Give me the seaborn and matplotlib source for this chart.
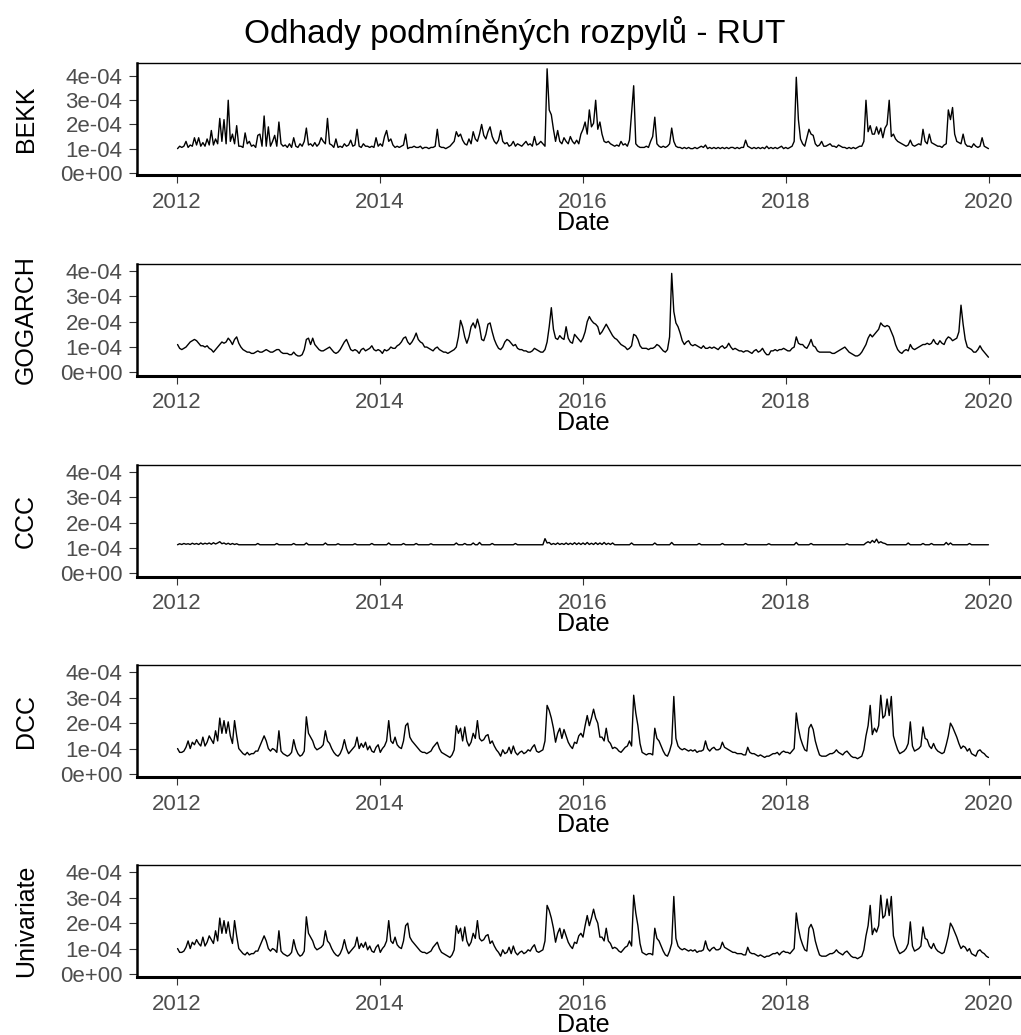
import numpy as np
import pandas as pd
import matplotlib
matplotlib.use("Agg")
import matplotlib.pyplot as plt
import seaborn as sns

# ---------------- data (values in units of 1e-04) ----------------
title = "Odhady podmíněných rozpylů - RUT"
series_names = ["BEKK", "GOGARCH", "CCC", "DCC", "Univariate"]
x_label = "Date"
start_date = "2012-01-03"
end_date = "2019-12-31"
year_ticks = ["2012", "2014", "2016", "2018", "2020"]
y_tick_values = [0.0, 1e-4, 2e-4, 3e-4, 4e-4]
y_tick_labels = ["0e+00", "1e-04", "2e-04", "3e-04", "4e-04"]
unit = 1e-4

bekk_values = [
    # 2012
    1.0, 1.1, 1.05, 1.1, 1.3, 1.05, 1.15, 1.1, 1.45, 1.15, 1.45, 1.1,
    1.25, 1.1, 1.4, 1.15, 1.75, 1.15, 1.4, 1.2, 2.25, 1.3, 2.2, 1.2,
    3.0, 1.3, 1.6, 1.2, 1.95, 1.1, 1.1, 1.05, 1.65, 1.2, 1.3, 1.1,
    1.15, 1.05, 1.55, 1.6, 1.1, 2.35, 1.1, 1.9, 1.1, 1.3, 1.55, 1.1,
    # 2013
    2.1, 1.2, 1.1, 1.15, 1.05, 1.2, 1.05, 1.45, 1.1, 1.05, 1.2, 1.1,
    1.3, 1.85, 1.15, 1.2, 1.1, 1.25, 1.1, 1.2, 1.45, 1.3, 1.2, 2.25,
    1.2, 1.15, 1.05, 1.4, 1.05, 1.1, 1.05, 1.2, 1.1, 1.15, 1.35, 1.1,
    1.15, 1.8, 1.1, 1.05, 1.2, 1.1, 1.1, 1.05, 1.1, 1.05, 1.45, 1.1,
    # 2014
    1.2, 1.1, 1.5, 1.75, 1.3, 1.4, 1.15, 1.05, 1.1, 1.05, 1.1, 1.15,
    1.6, 1.0, 1.05, 1.05, 1.1, 1.05, 1.05, 1.1, 1.0, 1.05, 1.05, 1.0,
    1.05, 1.05, 1.1, 1.8, 1.1, 1.05, 1.05, 1.0, 1.05, 1.1, 1.2, 1.3,
    1.7, 1.5, 1.6, 1.35, 1.2, 1.15, 1.4, 1.2, 1.7, 1.4, 1.3, 1.6,
    # 2015
    2.0, 1.55, 1.4, 1.7, 1.9, 1.5, 1.3, 1.2, 1.35, 1.75, 1.3, 1.2,
    1.25, 1.1, 1.15, 1.3, 1.1, 1.2, 1.15, 1.1, 1.2, 1.3, 1.15, 1.2,
    1.1, 1.5, 1.15, 1.2, 1.3, 1.2, 1.1, 4.3, 2.6, 2.4, 1.8, 1.3,
    1.75, 1.3, 1.2, 1.45, 1.3, 1.2, 1.5, 1.3, 1.2, 1.35, 1.2, 1.6,
    # 2016
    1.8, 2.1, 1.6, 2.6, 1.9, 2.05, 3.0, 1.8, 2.1, 1.6, 1.3, 1.25,
    1.3, 1.2, 1.15, 1.1, 1.15, 1.1, 1.3, 1.15, 1.2, 1.1, 1.35, 2.5,
    3.6, 1.2, 1.1, 1.05, 1.05, 1.05, 1.1, 1.05, 1.3, 1.5, 2.3, 1.2,
    1.1, 1.05, 1.1, 1.05, 1.1, 1.2, 1.85, 1.3, 1.1, 1.05, 1.05, 1.0,
    # 2017
    1.05, 1.0, 1.05, 1.0, 1.0, 1.05, 1.0, 1.05, 1.1, 1.05, 1.15, 1.0,
    1.05, 1.0, 1.05, 1.0, 1.05, 1.0, 1.05, 1.0, 1.05, 1.0, 1.05, 1.05,
    1.0, 1.05, 1.0, 1.05, 1.05, 1.35, 1.1, 1.05, 1.0, 1.05, 1.0, 1.05,
    1.0, 1.05, 1.0, 1.1, 1.0, 1.05, 1.0, 1.05, 1.0, 1.05, 1.1, 1.0,
    # 2018
    1.05, 1.0, 1.05, 1.1, 1.3, 3.95, 2.2, 1.4, 1.2, 1.1, 1.45, 1.8,
    1.6, 1.55, 1.2, 1.1, 1.15, 1.3, 1.1, 1.1, 1.15, 1.2, 1.1, 1.1,
    1.05, 1.15, 1.1, 1.05, 1.05, 1.0, 1.05, 1.0, 1.05, 1.0, 1.05, 1.1,
    1.1, 1.3, 3.0, 1.7, 1.95, 1.6, 1.6, 1.9, 1.6, 1.85, 1.45, 1.85,
    # 2019
    2.0, 3.0, 1.5, 1.6, 1.4, 1.3, 1.25, 1.2, 1.15, 1.1, 1.15, 1.35,
    1.15, 1.1, 1.15, 1.2, 1.15, 1.8, 1.3, 1.2, 1.6, 1.25, 1.2, 1.15,
    1.1, 1.1, 1.05, 1.15, 1.2, 2.6, 2.2, 2.7, 1.6, 1.3, 1.25, 1.2,
    1.6, 1.2, 1.1, 1.1, 1.05, 1.2, 1.1, 1.05, 1.1, 1.45, 1.1, 1.05,
    1.0,
]

gogarch_values = [
    # 2012
    1.1, 0.95, 0.9, 0.95, 1.0, 1.1, 1.2, 1.25, 1.3, 1.25, 1.15, 1.05,
    1.05, 1.0, 1.05, 0.95, 0.9, 0.8, 0.9, 1.0, 1.1, 1.2, 1.15, 1.2,
    1.35, 1.25, 1.1, 1.3, 1.4, 1.15, 1.0, 0.9, 0.85, 0.8, 0.8, 0.75,
    0.75, 0.8, 0.85, 0.8, 0.8, 0.85, 0.9, 0.85, 0.8, 0.8, 0.85, 0.9,
    # 2013
    0.9, 0.8, 0.75, 0.75, 0.75, 0.7, 0.7, 0.8, 0.7, 0.65, 0.65, 0.7,
    0.9, 1.3, 1.35, 1.1, 1.35, 1.1, 1.0, 0.9, 0.85, 0.85, 0.9, 0.95,
    1.0, 0.9, 0.8, 0.75, 0.8, 0.9, 1.05, 1.2, 1.3, 1.1, 0.9, 0.85,
    0.9, 0.85, 0.75, 0.9, 0.95, 0.85, 0.9, 0.95, 1.05, 0.9, 0.85, 0.9,
    # 2014
    0.85, 0.75, 0.9, 0.85, 0.9, 1.0, 0.95, 0.95, 1.05, 1.1, 1.2, 1.35,
    1.4, 1.2, 1.1, 1.2, 1.35, 1.55, 1.3, 1.2, 1.15, 1.0, 1.0, 0.95,
    0.9, 0.85, 0.95, 1.0, 0.9, 0.85, 0.8, 0.8, 0.75, 0.8, 0.85, 0.9,
    1.0, 1.4, 2.05, 1.8, 1.4, 1.15, 1.4, 1.8, 1.95, 1.75, 2.1, 1.8,
    # 2015
    1.3, 1.25, 1.5, 1.9, 1.95, 1.6, 1.3, 1.1, 0.95, 0.9, 1.0, 1.2,
    1.3, 1.25, 1.15, 1.05, 1.1, 0.95, 0.9, 0.9, 0.85, 0.85, 0.8, 0.8,
    0.85, 0.95, 0.9, 0.85, 0.8, 0.8, 0.9, 1.2, 1.8, 2.55, 1.7, 1.35,
    1.3, 1.45, 1.35, 1.3, 1.8, 1.35, 1.2, 1.15, 1.5, 1.4, 1.3, 1.2,
    # 2016
    1.35, 1.6, 2.0, 2.2, 2.05, 1.95, 1.9, 1.8, 1.5, 1.6, 1.75, 1.9,
    1.75, 1.6, 1.45, 1.35, 1.3, 1.2, 1.1, 1.05, 1.0, 0.9, 0.95, 1.05,
    1.5, 1.45, 1.3, 1.05, 0.95, 0.95, 0.95, 0.9, 0.95, 0.95, 1.0, 1.1,
    1.05, 0.95, 0.85, 0.8, 0.9, 1.4, 3.9, 2.4, 1.95, 1.8, 1.55, 1.25,
    # 2017
    1.1, 1.2, 1.25, 1.1, 1.05, 1.1, 1.05, 1.0, 0.95, 1.05, 0.95, 0.95,
    1.0, 0.95, 1.0, 0.95, 0.9, 1.0, 1.05, 0.95, 1.0, 1.15, 1.0, 0.9,
    0.95, 0.9, 0.85, 0.85, 0.8, 0.85, 0.85, 0.8, 0.75, 0.85, 0.9, 0.8,
    0.85, 0.95, 0.8, 0.7, 0.7, 0.85, 0.85, 0.9, 0.85, 0.9, 0.9, 0.95,
    # 2018
    0.9, 0.85, 0.85, 0.95, 1.0, 1.4, 1.15, 1.1, 1.1, 1.0, 0.95, 1.1,
    1.3, 1.05, 1.0, 0.85, 0.8, 0.8, 0.8, 0.8, 0.8, 0.8, 0.75, 0.75,
    0.8, 0.85, 0.9, 0.95, 1.0, 0.9, 0.8, 0.75, 0.7, 0.65, 0.65, 0.7,
    0.8, 0.95, 1.1, 1.35, 1.5, 1.4, 1.5, 1.6, 1.7, 1.95, 1.85, 1.8,
    # 2019
    1.85, 1.8, 1.6, 1.4, 1.1, 0.9, 0.8, 0.75, 0.85, 0.9, 0.85, 1.1,
    0.95, 0.9, 0.95, 1.0, 1.05, 1.1, 1.1, 1.15, 1.1, 1.15, 1.3, 1.15,
    1.1, 1.25, 1.15, 1.1, 1.3, 1.4, 1.35, 1.25, 1.3, 1.35, 1.6, 2.65,
    1.9, 1.3, 1.0, 0.95, 0.9, 0.8, 0.8, 0.9, 1.05, 0.9, 0.8, 0.7,
    0.6,
]

ccc_values = [
    # 2012
    1.13, 1.17, 1.14, 1.18, 1.15, 1.17, 1.14, 1.19, 1.15, 1.18, 1.14, 1.20,
    1.15, 1.19, 1.16, 1.20, 1.15, 1.21, 1.16, 1.20, 1.25, 1.17, 1.20, 1.15,
    1.19, 1.14, 1.18, 1.14, 1.17, 1.13, 1.13, 1.13, 1.13, 1.13, 1.13, 1.13,
    1.13, 1.13, 1.18, 1.13, 1.13, 1.13, 1.13, 1.13, 1.13, 1.13, 1.13, 1.18,
    # 2013
    1.13, 1.13, 1.13, 1.13, 1.13, 1.13, 1.13, 1.18, 1.13, 1.13, 1.13, 1.13,
    1.13, 1.20, 1.13, 1.13, 1.13, 1.13, 1.13, 1.13, 1.13, 1.13, 1.20, 1.13,
    1.13, 1.13, 1.13, 1.13, 1.17, 1.13, 1.13, 1.13, 1.13, 1.13, 1.13, 1.13,
    1.17, 1.13, 1.13, 1.13, 1.13, 1.13, 1.13, 1.13, 1.18, 1.13, 1.13, 1.13,
    # 2014
    1.13, 1.13, 1.13, 1.13, 1.20, 1.13, 1.13, 1.13, 1.13, 1.13, 1.13, 1.18,
    1.13, 1.13, 1.13, 1.13, 1.13, 1.18, 1.13, 1.13, 1.13, 1.13, 1.13, 1.13,
    1.17, 1.13, 1.13, 1.13, 1.13, 1.13, 1.13, 1.13, 1.13, 1.13, 1.13, 1.13,
    1.20, 1.13, 1.13, 1.13, 1.18, 1.13, 1.13, 1.13, 1.20, 1.13, 1.13, 1.22,
    # 2015
    1.13, 1.13, 1.13, 1.13, 1.13, 1.18, 1.13, 1.13, 1.13, 1.13, 1.13, 1.13,
    1.13, 1.13, 1.13, 1.13, 1.18, 1.13, 1.13, 1.13, 1.13, 1.13, 1.13, 1.13,
    1.13, 1.13, 1.13, 1.13, 1.13, 1.13, 1.37, 1.20, 1.22, 1.14, 1.18, 1.14,
    1.20, 1.14, 1.18, 1.14, 1.20, 1.14, 1.19, 1.14, 1.21, 1.14, 1.20, 1.14,
    # 2016
    1.20, 1.14, 1.22, 1.14, 1.19, 1.14, 1.21, 1.14, 1.20, 1.14, 1.22, 1.14,
    1.19, 1.14, 1.20, 1.13, 1.13, 1.13, 1.13, 1.13, 1.13, 1.13, 1.13, 1.20,
    1.13, 1.13, 1.13, 1.13, 1.13, 1.13, 1.13, 1.13, 1.13, 1.13, 1.20, 1.13,
    1.13, 1.13, 1.13, 1.13, 1.13, 1.13, 1.22, 1.13, 1.13, 1.13, 1.13, 1.13,
    # 2017
    1.13, 1.13, 1.13, 1.13, 1.13, 1.13, 1.13, 1.18, 1.13, 1.13, 1.13, 1.13,
    1.13, 1.13, 1.13, 1.13, 1.13, 1.13, 1.18, 1.13, 1.13, 1.13, 1.13, 1.13,
    1.13, 1.13, 1.13, 1.13, 1.13, 1.18, 1.13, 1.13, 1.13, 1.13, 1.13, 1.13,
    1.13, 1.13, 1.13, 1.13, 1.17, 1.13, 1.13, 1.13, 1.13, 1.13, 1.13, 1.13,
    # 2018
    1.13, 1.13, 1.13, 1.13, 1.13, 1.22, 1.13, 1.13, 1.13, 1.13, 1.13, 1.13,
    1.18, 1.13, 1.13, 1.13, 1.13, 1.13, 1.13, 1.13, 1.13, 1.13, 1.13, 1.13,
    1.13, 1.13, 1.13, 1.13, 1.13, 1.17, 1.13, 1.13, 1.13, 1.13, 1.13, 1.13,
    1.13, 1.13, 1.20, 1.25, 1.20, 1.30, 1.22, 1.35, 1.20, 1.25, 1.20, 1.18,
    # 2019
    1.13, 1.13, 1.13, 1.13, 1.13, 1.13, 1.13, 1.13, 1.13, 1.13, 1.20, 1.13,
    1.13, 1.13, 1.13, 1.13, 1.13, 1.18, 1.13, 1.13, 1.13, 1.18, 1.13, 1.13,
    1.13, 1.13, 1.13, 1.13, 1.22, 1.13, 1.20, 1.13, 1.13, 1.13, 1.13, 1.13,
    1.13, 1.13, 1.13, 1.18, 1.13, 1.13, 1.13, 1.13, 1.13, 1.13, 1.13, 1.13,
    1.13,
]

dcc_values = [
    # 2012
    1.0, 0.85, 0.85, 0.9, 1.05, 1.3, 1.0, 1.25, 1.15, 1.35, 1.2, 1.1,
    1.45, 1.1, 1.25, 1.5, 1.35, 1.2, 1.7, 1.3, 2.2, 1.6, 2.1, 1.6,
    2.05, 1.5, 1.2, 2.1, 1.5, 1.0, 0.9, 0.8, 0.75, 0.85, 0.75, 0.8,
    0.8, 0.9, 0.9, 1.1, 1.3, 1.5, 1.3, 1.0, 0.9, 1.0, 0.95, 0.85,
    # 2013
    1.7, 0.9, 0.8, 0.75, 0.7, 0.75, 0.85, 1.35, 1.0, 0.8, 0.7, 0.75,
    0.9, 2.25, 1.6, 1.45, 1.3, 1.05, 0.95, 1.0, 1.05, 1.15, 1.7, 1.3,
    1.2, 1.0, 0.85, 0.75, 0.7, 0.8, 1.0, 1.35, 1.0, 0.8, 0.9, 1.0,
    1.1, 1.45, 1.0, 1.2, 1.05, 1.25, 0.95, 1.1, 0.9, 0.85, 1.05, 1.15,
    # 2014
    0.85, 1.0, 1.1, 1.3, 2.1, 1.3, 1.2, 1.45, 1.15, 1.05, 1.0, 1.3,
    1.9, 2.0, 1.45, 1.3, 1.2, 1.1, 1.0, 0.9, 0.85, 0.85, 0.8, 0.85,
    0.9, 1.05, 1.15, 1.25, 1.0, 0.85, 0.8, 0.75, 0.7, 0.65, 0.75, 0.95,
    1.9, 1.6, 1.8, 1.3, 1.85, 1.3, 1.1, 1.25, 1.6, 1.4, 2.1, 1.4,
    # 2015
    1.3, 1.35, 1.5, 1.55, 1.2, 1.3, 1.1, 0.95, 0.85, 0.7, 0.95, 0.8,
    0.85, 1.05, 0.8, 1.1, 0.85, 0.75, 0.85, 0.9, 0.8, 0.85, 0.95, 0.9,
    1.05, 1.15, 0.9, 0.85, 0.9, 0.95, 1.3, 2.7, 2.5, 2.2, 1.8, 1.25,
    1.6, 1.8, 1.4, 1.75, 1.5, 1.25, 1.1, 1.0, 1.25, 1.2, 1.5, 1.6,
    # 2016
    1.45, 1.9, 2.3, 1.9, 2.2, 2.55, 2.2, 2.0, 1.45, 1.45, 1.3, 1.8,
    1.3, 1.2, 1.0, 1.05, 1.0, 0.9, 0.85, 0.95, 1.05, 1.1, 1.3, 1.1,
    3.1, 2.4, 1.9, 1.2, 0.85, 0.8, 0.75, 0.8, 0.8, 0.75, 1.8, 1.4,
    1.3, 1.1, 0.9, 0.75, 0.7, 0.9, 1.2, 3.05, 1.4, 1.1, 1.0, 0.95,
    # 2017
    1.0, 0.95, 0.9, 0.95, 0.9, 0.95, 0.85, 0.9, 0.9, 0.95, 1.3, 1.0,
    0.9, 1.0, 1.05, 0.95, 0.95, 1.0, 1.25, 1.05, 1.0, 0.95, 0.9, 0.85,
    0.85, 0.8, 0.8, 0.8, 0.75, 0.75, 1.05, 0.85, 0.8, 0.8, 0.75, 0.7,
    0.75, 0.7, 0.65, 0.7, 0.7, 0.75, 0.8, 0.8, 0.85, 0.75, 0.85, 0.9,
    # 2018
    0.85, 0.85, 0.8, 0.9, 1.0, 2.4, 1.8, 1.4, 1.15, 0.95, 0.9, 1.8,
    1.95, 1.75, 1.3, 1.0, 0.75, 0.7, 0.7, 0.7, 0.75, 0.8, 0.8, 0.85,
    0.95, 0.85, 0.8, 0.75, 0.85, 0.9, 0.8, 0.7, 0.65, 0.65, 0.6, 0.65,
    0.7, 0.95, 1.5, 1.9, 2.7, 1.55, 1.8, 1.65, 1.9, 3.1, 2.2, 2.3,
    # 2019
    2.95, 2.3, 3.05, 1.5, 1.2, 0.95, 0.8, 0.85, 0.9, 1.0, 1.2, 2.05,
    1.1, 0.9, 0.95, 1.0, 1.1, 1.85, 1.4, 1.35, 1.1, 1.0, 1.2, 1.0,
    0.9, 0.85, 0.8, 0.85, 1.15, 1.5, 2.0, 1.85, 1.65, 1.45, 1.2, 1.0,
    1.1, 1.05, 0.9, 1.0, 0.8, 0.75, 0.7, 0.9, 0.95, 0.85, 0.8, 0.7,
    0.65,
]

# The Univariate panel shows the same path as DCC in the source figure
univariate_values = list(dcc_values)

series_values = [bekk_values, gogarch_values, ccc_values, dcc_values, univariate_values]

# ---------------- styling ----------------
sns.set_theme(style="white")
plt.rcParams["font.family"] = ["Liberation Sans", "DejaVu Sans"]

W, H = 1021, 1035
fig = plt.figure(figsize=(W / 100, H / 100), dpi=100)

left_px, right_px = 137, 1029
panel_tops = [63, 263.5, 464.5, 665, 865]
panel_h = 112
y_limits = [(-0.09e-4, 4.54e-4)] + [(-0.12e-4, 4.29e-4)] * 4

start = pd.Timestamp(start_date)
end = pd.Timestamp(end_date)
pad = (end - start) * 0.05
tick_dates = pd.to_datetime([f"{y}-01-01" for y in year_ticks])

for i, (name, vals) in enumerate(zip(series_names, series_values)):
    assert len(vals) == 385, (name, len(vals))
    dates = pd.date_range(start_date, end_date, periods=len(vals))
    df = pd.DataFrame({"Date": dates, "value": np.array(vals) * unit})
    ax = fig.add_axes([left_px / W, 1 - (panel_tops[i] + panel_h) / H,
                       (right_px - left_px) / W, panel_h / H])
    sns.lineplot(data=df, x="Date", y="value", ax=ax, color="black",
                 linewidth=1.0, estimator=None)
    ax.set_xlim(start - pad, end + pad)
    ax.set_ylim(*y_limits[i])
    ax.set_xticks(tick_dates)
    ax.set_xticklabels(year_ticks)
    ax.set_yticks(y_tick_values)
    ax.set_yticklabels(y_tick_labels)
    ax.tick_params(axis="both", which="major", length=5.5, width=0.8,
                   color="#333333", labelsize=16, labelcolor="#4D4D4D",
                   bottom=True, left=True, pad=5)
    ax.tick_params(axis="x", pad=6.5)
    for side, lw in [("left", 1.8), ("bottom", 2.2), ("top", 1.0), ("right", 1.0)]:
        ax.spines[side].set_visible(True)
        ax.spines[side].set_color("black")
        ax.spines[side].set_linewidth(lw)
    ax.grid(False)
    ax.set_facecolor("white")
    ax.set_ylabel(name, fontsize=18, color="black")
    ax.yaxis.set_label_coords(-0.111, 0.5)
    ax.set_xlabel(x_label, fontsize=18, color="black")
    ax.xaxis.set_label_coords(0.5, -0.32)

fig.text(514.5 / W, 1 - 43 / H, title, ha="center", va="baseline",
         fontsize=24, color="black")

fig.savefig("out.png", dpi=100, facecolor="white")
